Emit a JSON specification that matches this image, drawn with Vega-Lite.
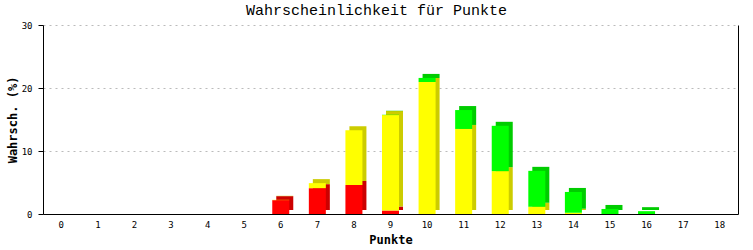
{
  "$schema": "https://vega.github.io/schema/vega-lite/v6.json",
  "width": 695,
  "height": 189,
  "autosize": {"type": "none"},
  "padding": {"left": 43, "top": 25, "right": 15, "bottom": 36},
  "background": "white",
  "config": {
    "view": {"stroke": null},
    "font": "DejaVu Sans Mono"
  },
  "title": {
    "text": "Wahrscheinlichkeit für Punkte",
    "font": "Liberation Mono",
    "fontSize": 15,
    "fontWeight": "normal",
    "color": "black",
    "anchor": "middle",
    "dx": -14,
    "offset": 3
  },
  "data": {
    "values": [
      {"p": 0, "s": "rot", "o": 1, "v": 0}, {"p": 0, "s": "gelb", "o": 2, "v": 0}, {"p": 0, "s": "gruen", "o": 3, "v": 0},
      {"p": 1, "s": "rot", "o": 1, "v": 0}, {"p": 1, "s": "gelb", "o": 2, "v": 0}, {"p": 1, "s": "gruen", "o": 3, "v": 0},
      {"p": 2, "s": "rot", "o": 1, "v": 0}, {"p": 2, "s": "gelb", "o": 2, "v": 0}, {"p": 2, "s": "gruen", "o": 3, "v": 0},
      {"p": 3, "s": "rot", "o": 1, "v": 0}, {"p": 3, "s": "gelb", "o": 2, "v": 0}, {"p": 3, "s": "gruen", "o": 3, "v": 0},
      {"p": 4, "s": "rot", "o": 1, "v": 0}, {"p": 4, "s": "gelb", "o": 2, "v": 0}, {"p": 4, "s": "gruen", "o": 3, "v": 0},
      {"p": 5, "s": "rot", "o": 1, "v": 0}, {"p": 5, "s": "gelb", "o": 2, "v": 0}, {"p": 5, "s": "gruen", "o": 3, "v": 0},
      {"p": 6, "s": "rot", "o": 1, "v": 2.2}, {"p": 6, "s": "gelb", "o": 2, "v": 0.05}, {"p": 6, "s": "gruen", "o": 3, "v": 0},
      {"p": 7, "s": "rot", "o": 1, "v": 4.1}, {"p": 7, "s": "gelb", "o": 2, "v": 0.8}, {"p": 7, "s": "gruen", "o": 3, "v": 0},
      {"p": 8, "s": "rot", "o": 1, "v": 4.6}, {"p": 8, "s": "gelb", "o": 2, "v": 8.7}, {"p": 8, "s": "gruen", "o": 3, "v": 0},
      {"p": 9, "s": "rot", "o": 1, "v": 0.55}, {"p": 9, "s": "gelb", "o": 2, "v": 15.15}, {"p": 9, "s": "gruen", "o": 3, "v": 0.05},
      {"p": 10, "s": "rot", "o": 1, "v": 0}, {"p": 10, "s": "gelb", "o": 2, "v": 20.95}, {"p": 10, "s": "gruen", "o": 3, "v": 0.65},
      {"p": 11, "s": "rot", "o": 1, "v": 0}, {"p": 11, "s": "gelb", "o": 2, "v": 13.5}, {"p": 11, "s": "gruen", "o": 3, "v": 3.0},
      {"p": 12, "s": "rot", "o": 1, "v": 0}, {"p": 12, "s": "gelb", "o": 2, "v": 6.8}, {"p": 12, "s": "gruen", "o": 3, "v": 7.2},
      {"p": 13, "s": "rot", "o": 1, "v": 0}, {"p": 13, "s": "gelb", "o": 2, "v": 1.15}, {"p": 13, "s": "gruen", "o": 3, "v": 5.7},
      {"p": 14, "s": "rot", "o": 1, "v": 0}, {"p": 14, "s": "gelb", "o": 2, "v": 0.2}, {"p": 14, "s": "gruen", "o": 3, "v": 3.3},
      {"p": 15, "s": "rot", "o": 1, "v": 0}, {"p": 15, "s": "gelb", "o": 2, "v": 0}, {"p": 15, "s": "gruen", "o": 3, "v": 0.8},
      {"p": 16, "s": "rot", "o": 1, "v": 0}, {"p": 16, "s": "gelb", "o": 2, "v": 0}, {"p": 16, "s": "gruen", "o": 3, "v": 0.45},
      {"p": 17, "s": "rot", "o": 1, "v": 0}, {"p": 17, "s": "gelb", "o": 2, "v": 0}, {"p": 17, "s": "gruen", "o": 3, "v": 0},
      {"p": 18, "s": "rot", "o": 1, "v": 0}, {"p": 18, "s": "gelb", "o": 2, "v": 0}, {"p": 18, "s": "gruen", "o": 3, "v": 0}
    ]
  },
  "encoding": {
    "x": {
      "field": "p",
      "type": "ordinal",
      "sort": "ascending",
      "scale": {"paddingInner": 0.535, "paddingOuter": 0.2675},
      "axis": {
        "title": "Punkte",
        "titleFont": "DejaVu Sans Mono",
        "titleFontSize": 12,
        "titleFontWeight": "bold",
        "titleColor": "black",
        "titleBaseline": "middle",
        "titleY": 25,
        "labelAngle": 0,
        "labelFont": "DejaVu Sans Mono",
        "labelFontSize": 9,
        "labelColor": "black",
        "labelPadding": 6,
        "ticks": false,
        "tickSize": 0,
        "domainColor": "black",
        "domainWidth": 1,
        "grid": false
      }
    },
    "y": {
      "field": "v",
      "type": "quantitative",
      "stack": "zero",
      "scale": {"domain": [0, 30], "nice": false}
    },
    "order": {"field": "o", "type": "quantitative"}
  },
  "layer": [
    {
      "mark": {"type": "bar", "xOffset": 4, "yOffset": -4},
      "encoding": {
        "color": {
          "field": "s",
          "type": "nominal",
          "scale": {"domain": ["rot", "gelb", "gruen"], "range": ["#cc0000", "#cccc00", "#00cc00"]},
          "legend": null
        },
        "y": {
          "field": "v",
          "type": "quantitative",
          "stack": "zero",
          "scale": {"domain": [0, 30], "nice": false},
          "axis": {
            "orient": "left",
            "title": "Wahrsch. (%)",
            "titleFont": "DejaVu Sans Mono",
            "titleFontSize": 12,
            "titleFontWeight": "bold",
            "titleColor": "black",
            "titleBaseline": "middle",
            "titleX": -31,
            "titleY": 94.5,
            "values": [0, 10, 20, 30],
            "labelFont": "DejaVu Sans Mono",
            "labelFontSize": 9,
            "labelColor": "black",
            "labelPadding": 6,
            "tickSize": 5,
            "tickColor": "black",
            "domainColor": "black",
            "domainWidth": 1,
            "grid": true,
            "gridColor": "#bbbbbb",
            "gridDash": [2, 4],
            "gridWidth": 1
          }
        }
      }
    },
    {
      "mark": {"type": "bar"},
      "encoding": {
        "color": {
          "field": "s",
          "type": "nominal",
          "scale": {"domain": ["rot", "gelb", "gruen"], "range": ["#ff0000", "#ffff00", "#00ff00"]},
          "legend": null
        },
        "y": {
          "field": "v",
          "type": "quantitative",
          "stack": "zero",
          "scale": {"domain": [0, 30], "nice": false},
          "axis": {
            "orient": "right",
            "title": null,
            "labels": false,
            "ticks": false,
            "grid": false,
            "domainColor": "black",
            "domainWidth": 1,
            "values": [0, 10, 20, 30]
          }
        }
      }
    }
  ],
  "resolve": {"scale": {"color": "independent"}, "axis": {"y": "independent"}}
}
